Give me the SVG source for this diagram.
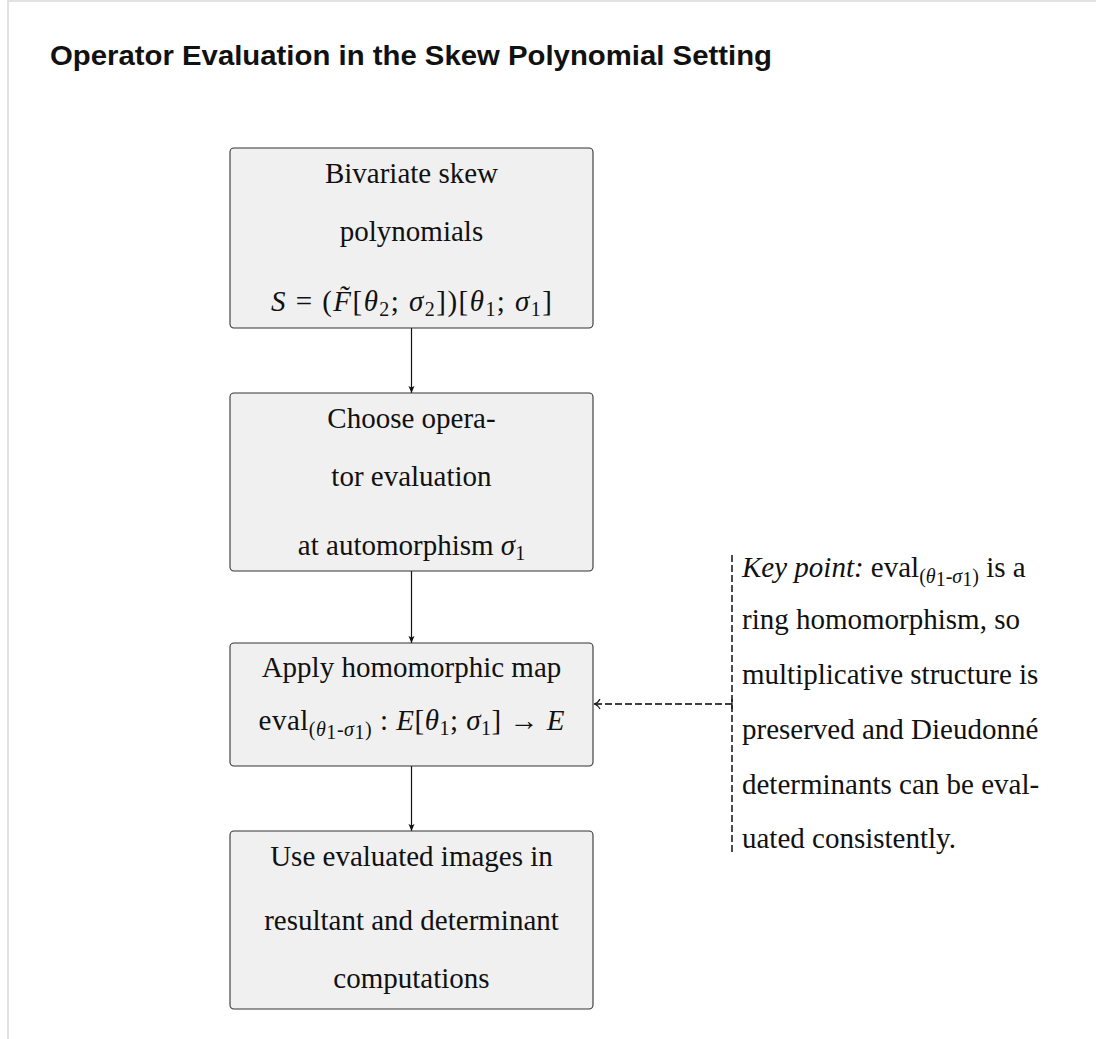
<svg xmlns="http://www.w3.org/2000/svg" width="1096" height="1039" viewBox="0 0 1096 1039">
<style>
.frame{fill:#fff;stroke:#d9d9d9;stroke-width:1.5}
.box{fill:#f0f0f0;stroke:#333;stroke-width:1.1}
.t{font-family:"Liberation Serif","Times New Roman",serif;font-size:29px;fill:#111}
.c{text-anchor:middle}
.i{font-style:italic}
.s{font-size:20px}
.title{font-family:"Liberation Sans",Arial,sans-serif;font-weight:bold;font-size:27px;fill:#111}
.edge{stroke:#111;stroke-width:1.2;fill:none}
.dash{stroke:#000;stroke-width:1.4;fill:none;stroke-dasharray:7 3}
</style>
<defs>
<marker id="ah" markerWidth="8" markerHeight="8" refX="7" refY="4" orient="auto" markerUnits="userSpaceOnUse">
<path d="M0,1 L7,4 L0,7 L1.5,4 Z" fill="#111"/>
</marker>
<marker id="oh" markerWidth="10" markerHeight="12" refX="8" refY="6" orient="auto" markerUnits="userSpaceOnUse">
<path d="M2,1 Q4,5 8,6 Q4,7 2,11" fill="none" stroke="#111" stroke-width="1.2"/>
</marker>
</defs>
<rect class="frame" x="8" y="1" width="1100" height="1060"/>
<text class="title" x="50" y="65" textLength="722" lengthAdjust="spacingAndGlyphs">Operator Evaluation in the Skew Polynomial Setting</text>

<g id="connectors">
<line class="edge" x1="411.5" y1="328" x2="411.5" y2="393" marker-end="url(#ah)"/>
<line class="edge" x1="411.5" y1="571" x2="411.5" y2="643" marker-end="url(#ah)"/>
<line class="edge" x1="411.5" y1="766" x2="411.5" y2="831" marker-end="url(#ah)"/>
<line class="dash" x1="732" y1="704" x2="594" y2="704" marker-end="url(#oh)"/>
</g>

<g id="n1">
<rect class="box" x="230" y="148" width="363" height="180" rx="4"/>
<text class="t c" x="411.5" y="183">Bivariate skew</text>
<text class="t c" x="411.5" y="241">polynomials</text>
<text class="t c" x="411.5" y="311" textLength="281" lengthAdjust="spacing"><tspan class="i">S</tspan> = (<tspan class="i">F̃</tspan>[<tspan class="i">θ</tspan><tspan class="s" dy="5">2</tspan><tspan dy="-5">; </tspan><tspan class="i">σ</tspan><tspan class="s" dy="5">2</tspan><tspan dy="-5">])[</tspan><tspan class="i">θ</tspan><tspan class="s" dy="5">1</tspan><tspan dy="-5">; </tspan><tspan class="i">σ</tspan><tspan class="s" dy="5">1</tspan><tspan dy="-5">]</tspan></text>
</g>

<g id="n2">
<rect class="box" x="230" y="393" width="363" height="178" rx="4"/>
<text class="t c" x="411.5" y="428">Choose opera-</text>
<text class="t c" x="411.5" y="486">tor evaluation</text>
<text class="t c" x="411.5" y="555">at automorphism <tspan class="i">σ</tspan><tspan class="s" dy="5">1</tspan></text>
</g>

<g id="n3">
<rect class="box" x="230" y="643" width="363" height="123" rx="4"/>
<text class="t c" x="411.5" y="677">Apply homomorphic map</text>
<text class="t c" x="411.5" y="730" textLength="306" lengthAdjust="spacing">eval<tspan class="s" dy="6">(</tspan><tspan class="s i">θ</tspan><tspan class="s" dy="3" font-size="14px">1</tspan><tspan class="s" dy="-3">-</tspan><tspan class="s i">σ</tspan><tspan class="s" dy="3" font-size="14px">1</tspan><tspan class="s" dy="-3">)</tspan><tspan dy="-6"> : </tspan><tspan class="i">E</tspan>[<tspan class="i">θ</tspan><tspan class="s" dy="5">1</tspan><tspan dy="-5">; </tspan><tspan class="i">σ</tspan><tspan class="s" dy="5">1</tspan><tspan dy="-5">] → </tspan><tspan class="i">E</tspan></text>
</g>

<g id="n4">
<rect class="box" x="230" y="831" width="363" height="178" rx="4"/>
<text class="t c" x="411.5" y="866">Use evaluated images in</text>
<text class="t c" x="411.5" y="930">resultant and determinant</text>
<text class="t c" x="411.5" y="988">computations</text>
</g>

<g id="note">
<line class="dash" x1="732" y1="555" x2="732" y2="853"/>
<line class="edge" x1="732" y1="699" x2="732" y2="709"/>
<text class="t" x="742" y="577"><tspan class="i">Key point:</tspan>  eval<tspan class="s" dy="6">(</tspan><tspan class="s i">θ</tspan><tspan class="s" dy="3" font-size="14px">1</tspan><tspan class="s" dy="-3">-</tspan><tspan class="s i">σ</tspan><tspan class="s" dy="3" font-size="14px">1</tspan><tspan class="s" dy="-3">)</tspan><tspan dy="-6"> is a</tspan></text>
<text class="t" x="742" y="629">ring homomorphism, so</text>
<text class="t" x="742" y="684">multiplicative structure is</text>
<text class="t" x="742" y="739">preserved and Dieudonné</text>
<text class="t" x="742" y="794">determinants can be eval-</text>
<text class="t" x="742" y="848">uated consistently.</text>
</g>
</svg>
